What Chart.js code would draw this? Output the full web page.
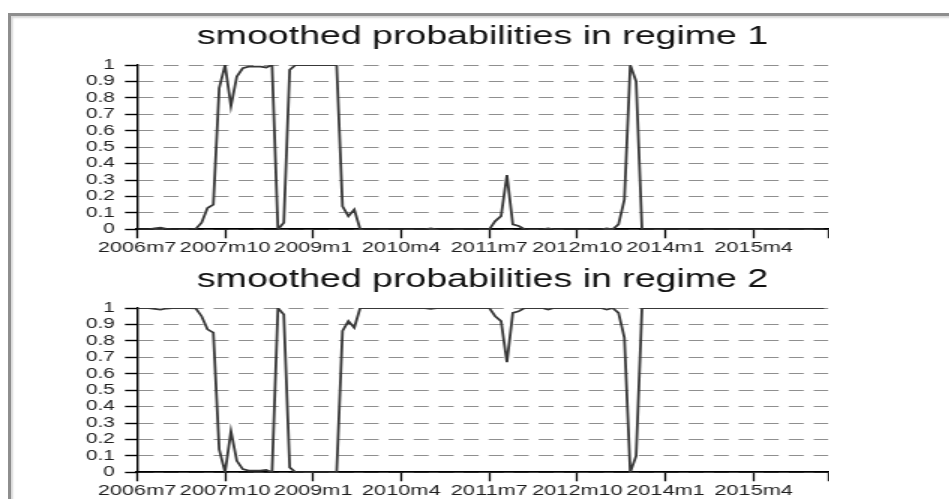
<!DOCTYPE html>
<html>
<head>
<meta charset="utf-8">
<script src="https://cdn.jsdelivr.net/npm/chart.js@4/dist/chart.umd.min.js"></script>
<style>
html,body{margin:0;padding:0;background:#fff;width:949px;height:499px;overflow:hidden;position:relative;}
#frame{position:absolute;left:8px;top:13px;width:960px;height:500px;border-top:3px solid #8e8e8e;border-left:3px solid #8e8e8e;box-shadow:inset 2px 2px 2px #d8d8d8;}
.wrap{position:absolute;left:0;width:553px;height:262px;transform:scaleX(1.5);transform-origin:0 0;}
#w1{top:0px;}
#w2{top:243px;}
</style>
</head>
<body>
<div id="frame"></div>
<div class="wrap" id="w1"><canvas id="c1"></canvas></div>
<div class="wrap" id="w2"><canvas id="c2"></canvas></div>
<script>
// Monthly observations from 2006m7 (index 0) onward
const regime1 = [
  0,0,0,0.005,0.01,0.003,0,0,0,0,
  0.002,0.04,0.13,0.15,0.86,1.0,0.75,0.93,0.98,0.99,
  0.99,0.99,0.985,1.0,0.0,0.04,0.97,1,1,1,
  1,1,1,1,1,0.14,0.08,0.12,0,0,
  0,0,0,0,0,0,0,0,0,0,
  0.005,0,0,0,0,0,0,0,0,0,
  0,0.05,0.08,0.33,0.03,0.02,0,0,0,0,
  0.005,0,0,0,0,0,0,0,0,0,
  0.005,0,0.03,0.18,1.0,0.9,0,0,0,0,
  0,0,0,0,0,0,0,0,0,0,
  0,0,0,0,0,0,0,0,0,0,
  0,0,0,0,0,0,0,0
];
const regime2 = [
  1,1,1,0.995,0.99,0.997,1,1,1,1,
  0.998,0.95,0.87,0.85,0.14,0,0.25,0.07,0.02,0.01,
  0.01,0.01,0.015,0,1,0.96,0.03,0,0,0,
  0,0,0,0,0,0.86,0.92,0.88,1,1,
  1,1,1,1,1,1,1,1,1,1,
  0.995,1,1,1,1,1,1,1,1,1,
  1,0.95,0.92,0.67,0.97,0.98,1,1,1,1,
  0.99,1,1,1,1,1,1,1,1,1,
  0.99,1,0.97,0.82,0,0.1,1,1,1,1,
  1,1,1,1,1,1,1,1,1,1,
  1,1,1,1,1,1,1,1,1,1,
  1,1,1,1,1,1,1,1
];
const xTickValues = [0, 15, 30, 45, 60, 75, 90, 105, 117.7];
const xTickLabels = ['2006m7','2007m10','2009m1','2010m4','2011m7','2012m10','2014m1','2015m4',''];
const yTickValues = [0,0.1,0.2,0.3,0.4,0.5,0.6,0.7,0.8,0.9,1];
const yTickLabels = ['0','0.1','0.2','0.3','0.4','0.5','0.6','0.7','0.8','0.9','1'];
const titles = ['smoothed probabilities in regime 1','smoothed probabilities in regime 2'];

const FONT = "'Liberation Sans', Arial, sans-serif";

function makeChart(id, title, values) {
  return new Chart(document.getElementById(id), {
    type: 'line',
    data: {
      datasets: [{
        data: values.map((v, i) => ({x: i, y: v})),
        borderColor: '#383838',
        borderWidth: 1.8,
        pointRadius: 0,
        tension: 0,
        fill: false
      }]
    },
    options: {
      responsive: true,
      maintainAspectRatio: false,
      animation: false,
      devicePixelRatio: 1,
      layout: {padding: 0},
      plugins: {
        legend: {display: false},
        tooltip: {enabled: false},
        title: {
          display: true, text: title, fullSize: false, color: '#111',
          font: {family: FONT, size: 25, weight: 'normal'},
          padding: {top: 22.3, bottom: 12.7}
        }
      },
      scales: {
        x: {
          type: 'linear', min: 0, max: 117.7,
          afterBuildTicks: s => { s.ticks = xTickValues.map(v => ({value: v})); },
          afterFit: s => { s.height = 32.7; },
          ticks: {
            autoSkip: false, maxRotation: 0, minRotation: 0, padding: 0.5,
            color: '#1e1e1e', font: {family: FONT, size: 14.5},
            callback: (v, i) => xTickLabels[i]
          },
          grid: {drawOnChartArea: false, drawTicks: true, tickLength: 9, tickColor: '#000', tickWidth: 1.3},
          border: {display: true, color: '#000', width: 1.8}
        },
        y: {
          min: 0, max: 1,
          afterBuildTicks: s => { s.ticks = yTickValues.map(v => ({value: v})); },
          afterFit: s => { s.width = 91.33; },
          ticks: {
            autoSkip: false, padding: 6.7, color: '#1e1e1e', font: {family: FONT, size: 14},
            callback: (v, i) => yTickLabels[i]
          },
          grid: {color: '#8f8f8f', lineWidth: 1, drawTicks: true, tickLength: 8, tickColor: '#000', tickWidth: 1.4},
          border: {color: '#000', width: 1.4, dash: [10, 6.67]}
        }
      }
    }
  });
}

makeChart('c1', titles[0], regime1);
makeChart('c2', titles[1], regime2);
</script>
</body>
</html>
